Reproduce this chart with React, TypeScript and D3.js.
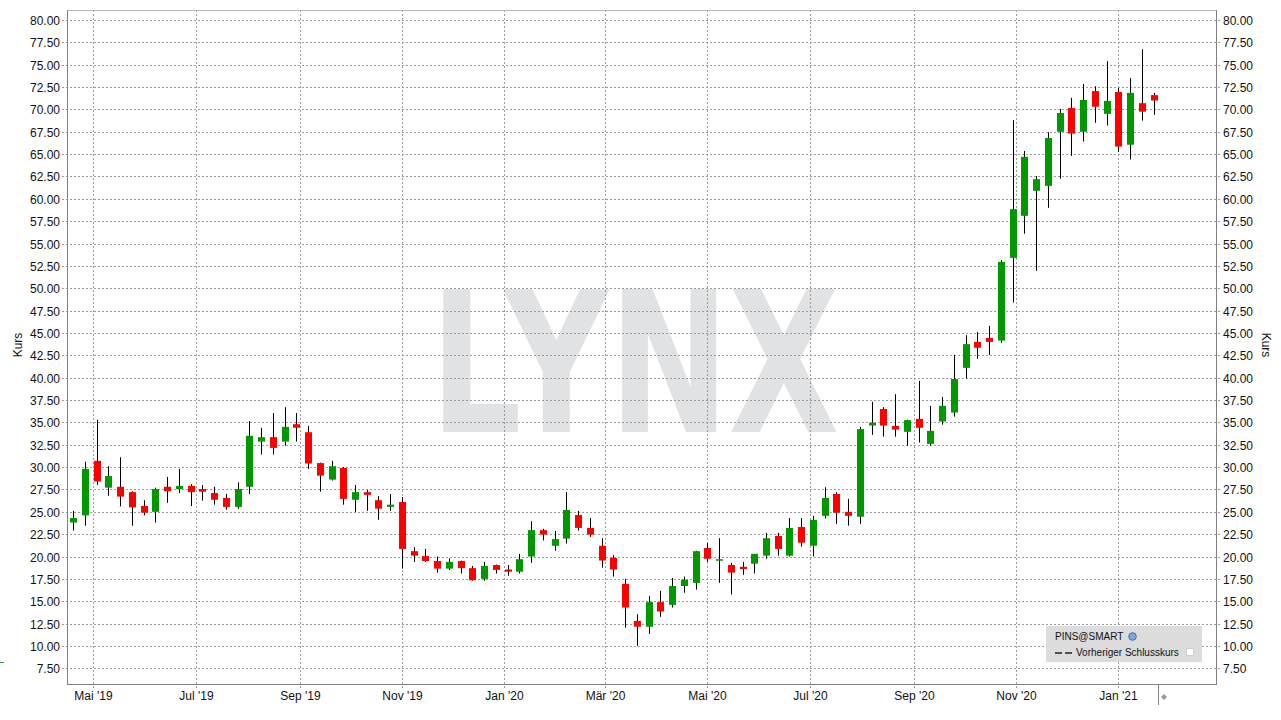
import React from "react";
import * as d3 from "d3";

// Weekly candles (week ending Friday), PINS@SMART
const firstWeek = new Date(2019, 3, 19);
const lastWeek = new Date(2021, 0, 23);
const weeks: Date[] = d3.timeFriday.range(firstWeek, lastWeek);

const opens = [23.8, 24.6, 30.7, 27.7, 27.8, 27.2, 25.65, 25.0, 27.8, 27.55, 27.9, 27.55, 27.1, 26.55, 25.55, 27.8, 32.85, 33.35, 32.85, 34.8, 33.9, 30.45, 28.6, 29.9, 26.35, 27.2, 26.3, 25.55, 26.1, 20.6, 20.05, 19.5, 18.65, 19.5, 18.7, 17.5, 19.05, 18.55, 18.3, 20.0, 22.95, 21.2, 22.0, 24.65, 23.2, 21.2, 19.85, 16.95, 12.8, 12.15, 14.9, 14.6, 16.7, 17.05, 20.95, 19.55, 19.05, 18.85, 19.2, 20.1, 22.3, 20.1, 23.3, 21.2, 24.55, 27.0, 25.0, 24.45, 34.65, 36.5, 34.6, 33.95, 35.4, 32.6, 35.1, 36.1, 41.1, 44.0, 44.45, 44.15, 53.4, 58.1, 60.9, 61.45, 67.5, 70.15, 67.5, 72.05, 69.5, 71.95, 66.05, 70.7, 71.6];
const highs = [25.1, 30.6, 35.3, 30.1, 31.1, 27.3, 26.3, 27.7, 28.9, 29.8, 28.1, 28.0, 27.8, 27.0, 28.3, 35.15, 34.4, 36.05, 36.7, 36.05, 34.6, 30.5, 30.7, 30.0, 28.0, 27.45, 26.75, 27.0, 26.65, 21.05, 20.85, 20.0, 19.8, 19.55, 18.95, 19.4, 19.1, 19.05, 20.3, 23.95, 23.1, 22.85, 27.2, 25.1, 24.3, 22.05, 20.15, 17.5, 13.55, 15.6, 16.15, 17.6, 17.75, 20.65, 21.5, 22.05, 19.3, 19.4, 20.3, 22.65, 22.65, 24.3, 24.3, 24.55, 27.75, 27.2, 26.45, 34.5, 37.3, 36.7, 38.15, 35.3, 39.65, 36.85, 37.85, 42.55, 44.75, 45.1, 45.8, 53.15, 68.8, 65.35, 62.55, 67.45, 70.05, 71.3, 72.85, 72.6, 75.4, 72.4, 73.5, 76.75, 71.85];
const lows = [22.9, 23.45, 28.0, 26.8, 25.6, 23.45, 24.6, 23.8, 26.0, 27.1, 25.65, 26.25, 25.8, 25.25, 25.35, 27.0, 31.4, 31.4, 32.4, 32.85, 29.8, 27.25, 28.5, 25.8, 25.0, 25.1, 24.1, 25.1, 18.65, 19.4, 19.4, 18.2, 18.5, 18.1, 17.3, 17.3, 18.1, 17.85, 18.1, 19.3, 21.8, 20.65, 21.45, 22.9, 22.2, 18.75, 17.75, 12.05, 10.0, 11.35, 13.25, 14.3, 15.95, 16.3, 19.4, 17.05, 15.75, 17.95, 18.1, 19.75, 20.1, 20.0, 21.1, 20.0, 24.25, 23.65, 23.45, 23.65, 33.6, 33.4, 33.4, 32.4, 32.75, 32.4, 34.75, 35.65, 39.9, 42.1, 42.55, 43.9, 48.4, 56.1, 51.95, 59.0, 62.25, 64.8, 66.4, 68.5, 68.2, 65.25, 64.4, 68.75, 69.4];
const closes = [24.3, 29.8, 28.4, 29.0, 26.7, 25.5, 24.9, 27.55, 27.3, 27.9, 27.2, 27.25, 26.35, 25.55, 27.55, 33.5, 33.35, 32.15, 34.5, 34.4, 30.4, 29.05, 30.1, 26.45, 27.2, 26.9, 25.35, 25.8, 20.85, 20.1, 19.5, 18.65, 19.4, 18.7, 17.35, 18.95, 18.5, 18.3, 19.7, 22.95, 22.45, 21.95, 25.2, 23.2, 22.45, 19.55, 18.55, 14.3, 12.15, 14.9, 13.85, 16.7, 17.4, 20.6, 19.75, 19.7, 18.2, 18.6, 20.3, 22.05, 20.85, 23.2, 21.55, 24.1, 26.55, 24.9, 24.55, 34.25, 34.95, 34.65, 34.2, 35.25, 34.4, 34.05, 36.85, 39.85, 43.75, 43.35, 44.0, 52.95, 58.85, 64.7, 62.2, 66.8, 69.6, 67.3, 71.05, 70.3, 70.95, 65.85, 71.85, 69.75, 71.0];

const monthTicks = [
  new Date(2019, 4, 1), new Date(2019, 6, 1), new Date(2019, 8, 1), new Date(2019, 10, 1),
  new Date(2020, 0, 1), new Date(2020, 2, 1), new Date(2020, 4, 1), new Date(2020, 6, 1),
  new Date(2020, 8, 1), new Date(2020, 10, 1), new Date(2021, 0, 1),
];
const monthLabels = ["Mai '19", "Jul '19", "Sep '19", "Nov '19", "Jan '20", "Mär '20", "Mai '20", "Jul '20", "Sep '20", "Nov '20", "Jan '21"];
const yTicks = d3.range(7.5, 80.01, 2.5);

const UP = "#009900";
const DOWN = "#ff0000";
const FONT = "'Liberation Sans', Arial, sans-serif";

export default function App() {
  const W = 1281, H = 720;
  const L = 67, R = 1216, T = 10, B = 684;
  const x = d3.scaleTime().domain([new Date(2019, 4, 1), new Date(2021, 0, 1)]).range([93.3, 1118.3]);
  const y = d3.scaleLinear().domain([7.5, 80]).range([668.3, 20]);
  const fmt = d3.format(".2f");

  const candles = weeks.map((d, i) => ({ d, o: opens[i], h: highs[i], l: lows[i], c: closes[i] })).filter(k => k.o !== undefined);

  // watermark: one text element, horizontally condensed, per-glyph x positions (in scaled coords)
  const wmScale = 0.73;
  const wmX = [430.1, 504.3, 609.1, 728.6].map(v => (v / wmScale).toFixed(1)).join(" ");

  return (
    <svg width={W} height={H} style={{ position: "absolute", left: 0, top: 0, background: "#fff" }} fontFamily={FONT}>
      <rect x={0} y={0} width={W} height={H} fill="#fff" />
      {/* watermark */}
      <text transform={`scale(${wmScale},1)`} x={wmX} y={431.7} fontFamily="'DejaVu Sans', sans-serif"
        fontWeight="bold" fontSize={197} fill="#e1e2e4">LYNX</text>
      {/* grid */}
      {yTicks.map(t => {
        const yy = Math.round(y(t)) + 0.5;
        return <g key={"y" + t}>
          <line x1={L - 5} x2={R + 5} y1={yy} y2={yy} stroke="#9a9a9a" strokeDasharray="2,2" />
          <text x={60} y={yy + 4.5} textAnchor="end" fontSize={12} fill="#111">{fmt(t)}</text>
          <text x={1223} y={yy + 4.5} textAnchor="start" fontSize={12} fill="#111">{fmt(t)}</text>
        </g>;
      })}
      {monthTicks.map((m, i) => {
        const xx = Math.round(x(m)) + 0.5;
        return <g key={"m" + i}>
          <line x1={xx} x2={xx} y1={T} y2={B + 6} stroke="#9a9a9a" strokeDasharray="2,2" />
          <text x={xx} y={700} textAnchor="middle" fontSize={12} fill="#111">{monthLabels[i]}</text>
        </g>;
      })}
      {/* frame */}
      <line x1={L} x2={R + 1} y1={T + 0.5} y2={T + 0.5} stroke="#b8b8b8" />
      <line x1={L + 0.5} x2={L + 0.5} y1={T} y2={B + 1} stroke="#808080" />
      <line x1={R + 0.5} x2={R + 0.5} y1={T} y2={B + 1} stroke="#808080" />
      <line x1={L} x2={R + 1} y1={B + 0.5} y2={B + 0.5} stroke="#808080" />
      {/* candles */}
      {candles.map((k, i) => {
        const cx = Math.round(x(k.d));
        const up = k.c >= k.o;
        const top = y(Math.max(k.o, k.c));
        const bot = y(Math.min(k.o, k.c));
        return <g key={"c" + i}>
          <line x1={cx + 0.5} x2={cx + 0.5} y1={y(k.h)} y2={y(k.l)} stroke="#000" strokeWidth={1} />
          <rect x={cx - 3} y={top} width={7} height={Math.max(1.5, bot - top)} fill={up ? UP : DOWN} />
        </g>;
      })}
      {/* axis titles */}
      <text transform="translate(22,345) rotate(-90)" textAnchor="middle" fontSize={12} fill="#111">Kurs</text>
      <text transform="translate(1262,345) rotate(90)" textAnchor="middle" fontSize={12} fill="#111">Kurs</text>
      {/* legend */}
      <rect x={1046} y={626} width={156} height={36} fill="#dcdcdc" />
      <text x={1055} y={640} fontSize={10} fill="#111">PINS@SMART</text>
      <circle cx={1132.5} cy={636.5} r={3.8} fill="#7aa7d9" stroke="#3c6ea8" strokeWidth={1} />
      <line x1={1055} x2={1072} y1={653} y2={653} stroke="#222" strokeWidth={1.6} strokeDasharray="7,3" />
      <text x={1076} y={656} fontSize={10} fill="#111">Vorheriger Schlusskurs</text>
      <rect x={1186.5} y={648.5} width={7} height={7} fill="#fff" stroke="#d0d0d0" />
      {/* misc */}
      <line x1={1158.5} x2={1158.5} y1={685} y2={705} stroke="#808080" />
      <polygon points="1161,697 1164,694 1167,697 1164,700" fill="#999" />
      <line x1={0} x2={4} y1={662.5} y2={662.5} stroke="#2fa84f" />
    </svg>
  );
}
